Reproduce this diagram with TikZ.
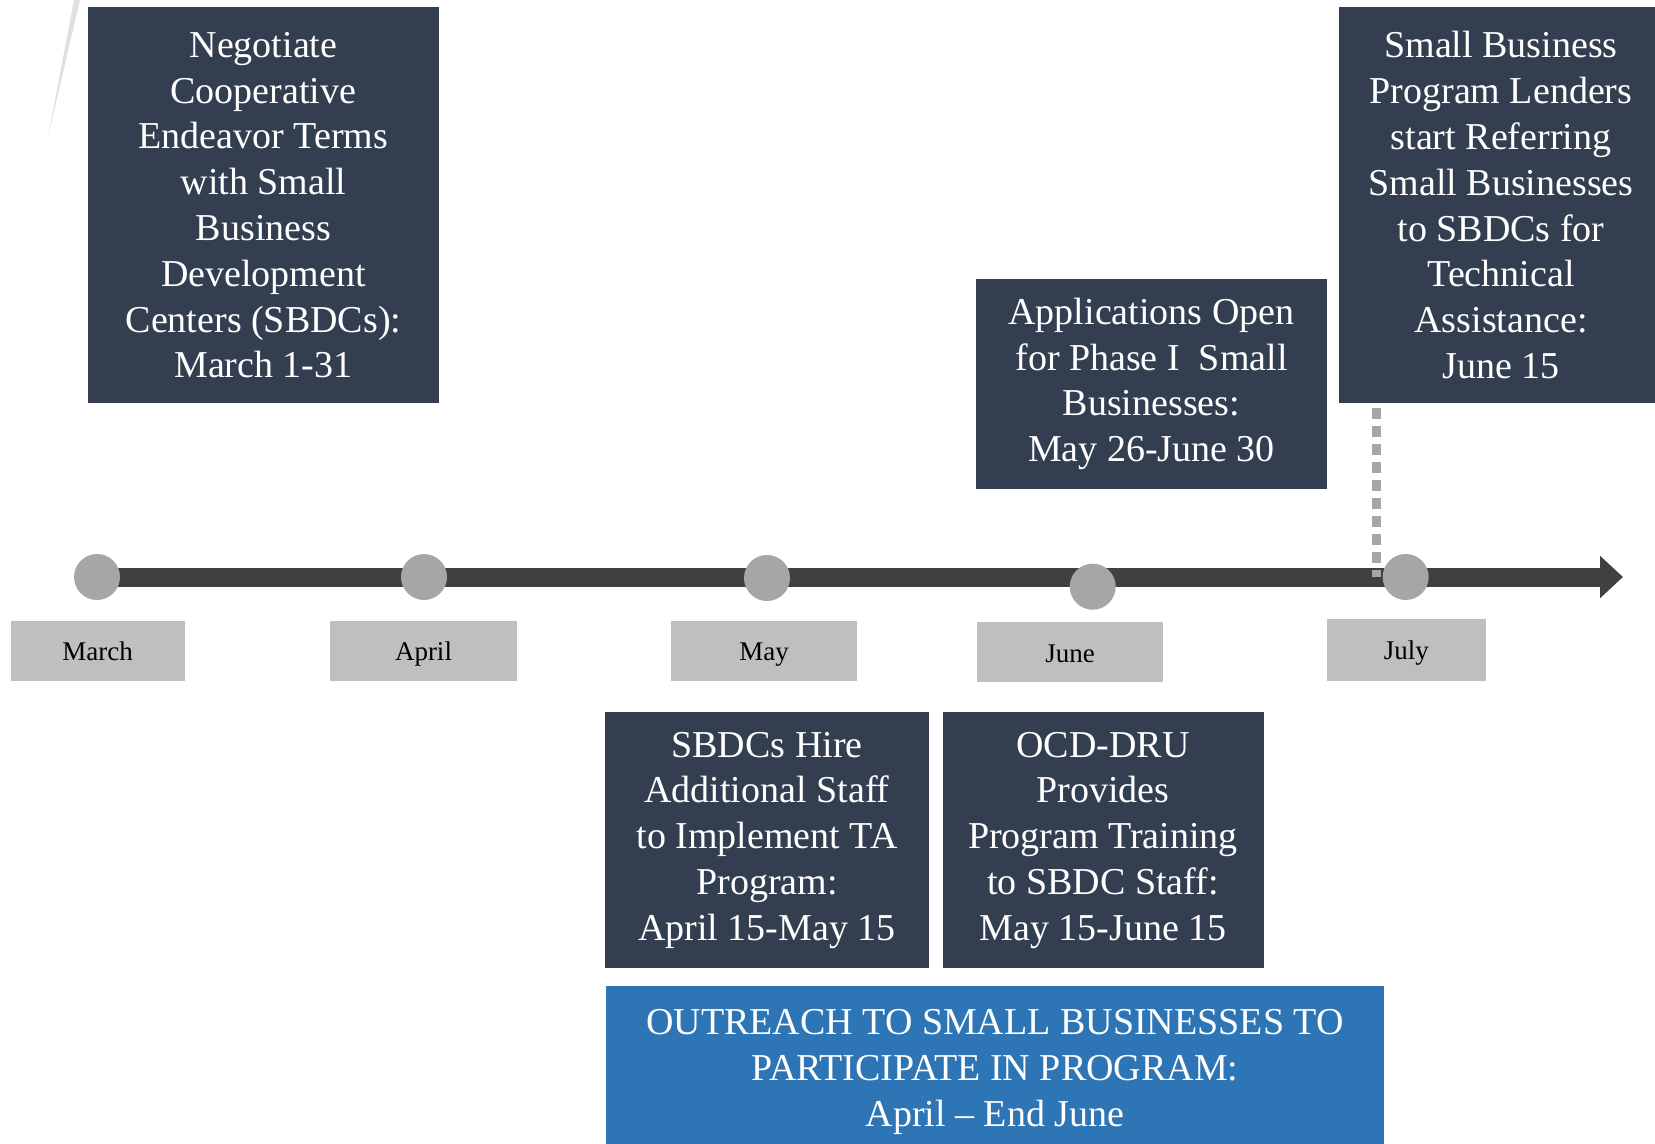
\documentclass[tikz,border=0pt]{standalone}
\usepackage{fontspec}
\setmainfont{Liberation Serif}
\usepackage{tikz}
\usetikzlibrary{arrows.meta}

\definecolor{slate}{HTML}{333F50}
\definecolor{barcol}{HTML}{404040}
\definecolor{dotcol}{HTML}{A6A6A6}
\definecolor{tagcol}{HTML}{BFBFBF}
\definecolor{outreachblue}{HTML}{2E75B6}

\begin{document}
\begin{tikzpicture}[x=0.5pt,y=-0.5pt,
    eventbox/.style={fill=slate,text=white,align=center,inner sep=0pt,font=\fontsize{19}{22.9}\selectfont},
    monthbox/.style={fill=tagcol,minimum width=93pt,minimum height=30pt,inner sep=0pt,text height=12.7pt,text depth=3pt,font=\fontsize{13.5}{16}\selectfont},
    dotnode/.style={circle,fill=dotcol,minimum size=23pt,inner sep=0pt}]
          \useasboundingbox (0,0) rectangle (1655,1144);
          \clip (0,0) rectangle (1655,1144);
          \fill[black!12] (74,0)--(80,0)--(48,137)--cycle;
          \node[eventbox,minimum width=175.9pt,minimum height=198pt] (negotiate) at (263.5,205.2) {Negotiate\\Cooperative\\Endeavor Terms\\with Small\\Business\\Development\\Centers (SBDCs):\\March 1-31};
          \node[eventbox,minimum width=161.8pt,minimum height=198pt] (lenders) at (1501,205.2) {Small Business\\Program Lenders\\start Referring\\Small Businesses\\to SBDCs for\\Technical\\Assistance:\\June 15};
          \node[eventbox,minimum width=175.5pt,minimum height=105pt] (apply) at (1151.5,384) {Applications Open\\for Phase I\ \ Small\\Businesses:\\May 26-June 30};
          \node[eventbox,minimum width=162pt,minimum height=127.8pt] (hire) at (767,840.2) {SBDCs Hire\\Additional Staff\\to Implement TA\\Program:\\April 15-May 15};
          \node[eventbox,minimum width=160.5pt,minimum height=127.8pt] (training) at (1103,840.2) {OCD-DRU\\Provides\\Program Training\\to SBDC Staff:\\May 15-June 15};
          \node[eventbox,fill=outreachblue,minimum width=389pt,minimum height=86pt] (outreach) at (995,1072) {OUTREACH TO SMALL BUSINESSES TO\\PARTICIPATE IN PROGRAM:\\April – End June};
          \coordinate (start) at (97,577);
          \coordinate (tip) at (1623,577);
          \draw[barcol,line width=9.5pt,-{Triangle[length=11.5pt,width=20.5pt]}] (start)--(tip);
          \coordinate (dtop) at (1376,408);
          \draw[dotcol,line width=4.5pt,dash pattern=on 5.5pt off 3.5pt] (dtop)--(dtop|-tip);
          \node[dotnode] (mar) at (97,577) {};
          \node[dotnode] (apr) at (424,577) {};
          \node[dotnode] (may) at (767,578) {};
          \node[dotnode] (jun) at (1092.7,586.7) {};
          \node[dotnode] (jul) at (1405.7,577) {};
          \node[monthbox,minimum width=87pt] (lmar) at (97.6,650.7) {March};
          \node[monthbox,minimum width=93.5pt] (lapr) at (423.5,650.7) {April};
          \node[monthbox] (lmay) at (764,650.7) {May};
          \node[monthbox,minimum width=93.3pt] (ljun) at (1070,652.3) {June};
          \node[monthbox,minimum width=79.7pt,minimum height=31pt] (ljul) at (1406.3,650) {July};
        \end{tikzpicture}
\end{document}
